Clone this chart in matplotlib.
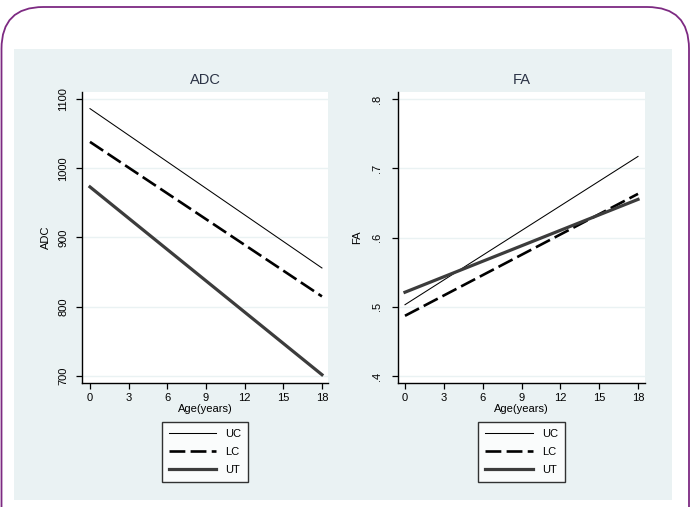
import numpy as np
import matplotlib
matplotlib.use("Agg")
import matplotlib.pyplot as plt
from matplotlib.patches import FancyBboxPatch, Rectangle

plt.rcParams['font.family'] = ['Liberation Sans', 'DejaVu Sans']

# fitted lines, read at age 0 and 18
age = [0, 18]
adc_uc = [1086, 856]
adc_lc = [1038, 815]
adc_ut = [973, 702]
fa_uc = [0.503, 0.717]
fa_lc = [0.487, 0.663]
fa_ut = [0.521, 0.655]

xticks = [0, 3, 6, 9, 12, 15, 18]
adc_ticks = [700, 800, 900, 1000, 1100]
fa_ticks = [0.4, 0.5, 0.6, 0.7, 0.8]
fa_ticklabels = ['.4', '.5', '.6', '.7', '.8']
labels = ['UC', 'LC', 'UT']

W, H = 696, 507
fig = plt.figure(figsize=(W / 100, H / 100), dpi=100)
fig.patch.set_facecolor('white')

# outer purple frame (open at the bottom)
frame = FancyBboxPatch((1.5 / W, -0.2), (689 - 1.5) / W, (H - 7) / H + 0.2,
                       boxstyle="round,pad=0,rounding_size=0.06",
                       transform=fig.transFigure, fill=False,
                       edgecolor='#7d2a82', linewidth=1.3, mutation_aspect=W / H,
                       zorder=-1)
fig.patches.append(frame)

# stata style background
bg = Rectangle((14 / W, (H - 500) / H), (672 - 14) / W, (500 - 49) / H,
               transform=fig.transFigure, facecolor='#eaf2f3', edgecolor='none',
               zorder=-2)
fig.patches.append(bg)

ax1 = fig.add_axes([82 / W, (H - 383) / H, 246 / W, 291 / H])
ax2 = fig.add_axes([398 / W, (H - 383) / H, 247 / W, 291 / H])

styles = [dict(color='black', lw=0.75, ls='-'),
          dict(color='black', lw=1.9, ls=(0, (6, 2))),
          dict(color='#3c3c3c', lw=2.3, ls='-')]


def panel(ax, series, ticks, ticklabels, title, ylim, xlim, ypad, ylpad):
    for y, st, lab in zip(series, styles, labels):
        ax.plot(age, y, label=lab, **st)
    ax.set_facecolor('white')
    ax.set_xlim(*xlim)
    ax.set_ylim(*ylim)
    ax.set_xticks(xticks)
    ax.set_yticks(ticks)
    ax.set_yticklabels(ticklabels, rotation=90, va='center')
    for t in ticks:
        ax.axhline(t, color='#eaf2f3', lw=1.0, zorder=0)
    for s in ['top', 'right']:
        ax.spines[s].set_visible(False)
    for s in ['left', 'bottom']:
        ax.spines[s].set_linewidth(1.0)
    ax.tick_params(direction='out', length=4, width=0.9, labelsize=8,
                   colors='black')
    ax.tick_params(axis='x', pad=3.5)
    ax.tick_params(axis='y', pad=ypad)
    ax.set_title(title, fontsize=10.5, color='#2b3345', pad=6)
    ax.set_xlabel('Age(years)', fontsize=8, labelpad=0.5)
    ax.set_ylabel(title, fontsize=8, labelpad=ylpad)
    leg = ax.legend(loc='upper center', bbox_to_anchor=(0.5, -0.134),
                    frameon=True, fancybox=False, fontsize=8,
                    handlelength=4.3, borderpad=0.6, labelspacing=0.75,
                    handletextpad=0.8, borderaxespad=0)
    leg.get_frame().set_edgecolor('black')
    leg.get_frame().set_linewidth(1.0)


panel(ax1, [adc_uc, adc_lc, adc_ut], adc_ticks, [str(t) for t in adc_ticks],
      'ADC', (690, 1110), (-0.62, 18.47), 6, 5)
panel(ax2, [fa_uc, fa_lc, fa_ut], fa_ticks, fa_ticklabels,
      'FA', (0.39, 0.81), (-0.54, 18.54), 7.5, 7)

fig.savefig('out.png', dpi=100)
